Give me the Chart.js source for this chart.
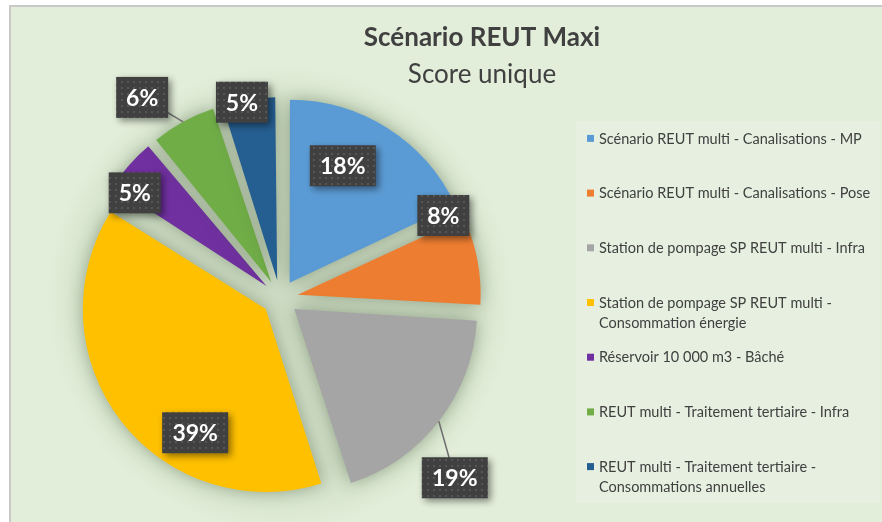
<!DOCTYPE html>
<html lang="fr">
<head>
<meta charset="utf-8">
<script src="https://cdn.jsdelivr.net/npm/chart.js@4.4.1/dist/chart.umd.min.js"></script>
<style>
  html, body { margin: 0; padding: 0; background: #fff; overflow: hidden; }
  #frame {
    position: absolute; left: 9px; top: 5px; width: 960px; height: 540px;
    border-left: 2px solid #c9c9c9; border-top: 2px solid #c9c9c9;
    background:
      radial-gradient(circle at 269px 291px, #ccdac3 0, #ccdac3 175px, rgba(226,238,217,0) 232px),
      #e2eed9;
    overflow: hidden;
  }
  #chart { position: absolute; left: 0; top: 0; }
</style>
</head>
<body>
<div id="frame"><canvas id="chart" width="942" height="530"></canvas></div>
<script>
const categories = [
  'Scénario REUT multi - Canalisations - MP',
  'Scénario REUT multi - Canalisations - Pose',
  'Station de pompage SP REUT multi - Infra',
  ['Station de pompage SP REUT multi -', 'Consommation énergie'],
  'Réservoir 10 000 m3 - Bâché',
  'REUT multi - Traitement tertiaire - Infra',
  ['REUT multi - Traitement tertiaire -', 'Consommations annuelles'],
];
const shares = [18, 8, 19, 39, 5, 6, 5]; // % of the single score
const sliceColors = ['#5b9bd5', '#ed7d31', '#a5a5a5', '#ffc000', '#7030a0', '#70ad47', '#255e91'];

// percentage tags: angle shift from slice middle (deg), distance from centre (x radius)
const tagSpots = [
  { shift: -7, dist: 0.80 },
  { shift: -16, dist: 1.0 },
  { shift: 8, dist: 1.37, leader: true },
  { shift: -20, dist: 0.87 },
  { shift: -5.5, dist: 0.98 },
  { shift: -5.7, dist: 1.33, leader: true },
  { shift: -2, dist: 1.09 },
];

const PIE_RADIUS = 183;
const EXPLODE = 18;

// dark dotted fill for the tags
const tile = document.createElement('canvas');
tile.width = 6; tile.height = 6;
const tctx = tile.getContext('2d');
tctx.fillStyle = '#404040'; tctx.fillRect(0, 0, 6, 6);
tctx.fillStyle = '#565656'; tctx.fillRect(2, 2, 2, 2);
const dotPattern = tctx.createPattern(tile, 'repeat');

// keep every exploded slice at the same radius (Chart.js grows narrow slices)
const evenRadius = {
  id: 'evenRadius',
  beforeDatasetsDraw(chart) {
    const meta = chart.getDatasetMeta(0);
    const R = meta.controller.outerRadius;
    meta.data.forEach((arc) => {
      const fix = 1 - Math.sin(Math.min(Math.PI, arc.circumference));
      arc.outerRadius = R - (arc.options.offset / 4) * fix;
    });
  }
};

const sliceShadow = {
  id: 'sliceShadow',
  beforeDatasetDraw(chart) {
    const ctx = chart.ctx;
    ctx.save();
    ctx.shadowColor = 'rgba(70, 95, 60, 0.45)';
    ctx.shadowBlur = 16;
  },
  afterDatasetDraw(chart) {
    chart.ctx.restore();
  }
};

const pctTags = {
  id: 'pctTags',
  afterDatasetsDraw(chart) {
    const ctx = chart.ctx;
    const meta = chart.getDatasetMeta(0);
    const R = meta.controller.outerRadius;
    ctx.save();
    ctx.font = 'bold 23px Lato';
    ctx.textAlign = 'center';
    ctx.textBaseline = 'middle';
    meta.data.forEach((arc, i) => {
      const spot = tagSpots[i];
      const mid = (arc.startAngle + arc.endAngle) / 2;
      const a = mid + spot.shift * Math.PI / 180;
      const cx = arc.x + Math.cos(a) * spot.dist * R;
      const cy = arc.y + Math.sin(a) * spot.dist * R;
      if (spot.leader) {
        const reach = arc.options.offset / 4 + R;
        ctx.strokeStyle = '#6e6e6e';
        ctx.lineWidth = 1.5;
        ctx.beginPath();
        ctx.moveTo(arc.x + Math.cos(mid) * reach, arc.y + Math.sin(mid) * reach);
        ctx.lineTo(cx, cy);
        ctx.stroke();
      }
      const text = shares[i] + '%';
      const w = Math.round(ctx.measureText(text).width + 20);
      const h = 41;
      ctx.save();
      ctx.shadowColor = 'rgba(0, 0, 0, 0.45)';
      ctx.shadowBlur = 7;
      ctx.shadowOffsetX = 3;
      ctx.shadowOffsetY = 3;
      ctx.fillStyle = dotPattern;
      ctx.fillRect(cx - w / 2, cy - h / 2, w, h);
      ctx.restore();
      ctx.fillStyle = '#ffffff';
      ctx.fillText(text, cx, cy + 1);
    });
    ctx.restore();
  }
};

// legend panel on the right, laid out as a chart box
const sideLegend = {
  id: 'sideLegend',
  beforeInit(chart) {
    const box = {
      position: 'right',
      weight: 0,
      fullSize: false,
      options: {},
      width: 404,
      height: 0,
      update(maxWidth, maxHeight) { this.width = 404; this.height = maxHeight; },
      isHorizontal() { return false; },
      draw() {
        const ctx = chart.ctx;
        const left = this.left, top = this.top;
        ctx.save();
        ctx.fillStyle = '#e7f0e0';
        ctx.fillRect(left + 27, top + 31, 304, 381);
        ctx.font = '14.5px Lato';
        ctx.textBaseline = 'middle';
        categories.forEach((name, i) => {
          const lines = Array.isArray(name) ? name : [name];
          const y = top + 48.5 + i * 54.7;
          ctx.fillStyle = sliceColors[i];
          ctx.fillRect(left + 38, y - 4, 7, 7);
          ctx.fillStyle = '#404040';
          lines.forEach((ln, k) => ctx.fillText(ln, left + 50, y + k * 20));
        });
        ctx.restore();
      }
    };
    Chart.layouts.addBox(chart, box);
  }
};

new Chart(document.getElementById('chart'), {
  type: 'pie',
  data: {
    labels: categories,
    datasets: [{
      data: shares,
      backgroundColor: sliceColors,
      borderWidth: 0,
      offset: EXPLODE * 4,
    }],
  },
  options: {
    responsive: false,
    animation: false,
    events: [],
    radius: PIE_RADIUS,
    layout: { padding: { bottom: 31.4 } },
    plugins: {
      legend: { display: false },
      tooltip: { enabled: false },
      title: {
        display: true,
        text: 'Scénario REUT Maxi',
        color: '#404040',
        font: { family: 'Lato', size: 26, weight: 'bold', lineHeight: 1.2 },
        padding: { top: 15, bottom: 0 },
      },
      subtitle: {
        display: true,
        text: 'Score unique',
        color: '#404040',
        font: { family: 'Lato', size: 26, weight: 'normal', lineHeight: 1.2 },
        padding: { top: 6, bottom: 0 },
      },
    },
  },
  plugins: [sideLegend, evenRadius, sliceShadow, pctTags],
});
</script>
</body>
</html>
